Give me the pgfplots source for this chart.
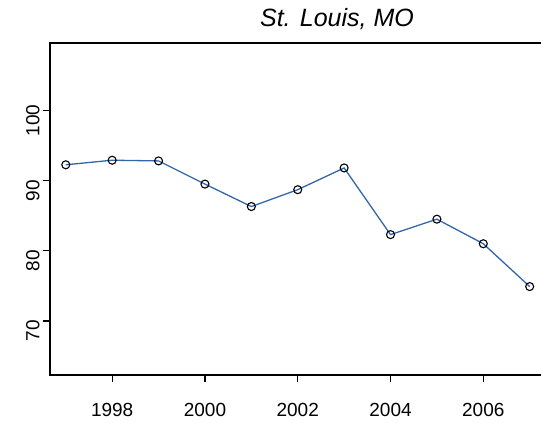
\documentclass[border=0pt]{standalone}
\usepackage{fontspec}
\setmainfont{Liberation Sans}
\usepackage{pgfplots}
\pgfplotsset{compat=1.18}
\definecolor{lineblue}{RGB}{49,102,168}
\begin{document}
\begin{tikzpicture}
\useasboundingbox (-50pt,-51pt) rectangle (491pt,375pt);
\begin{axis}[
  at={(0pt,0pt)}, anchor=south west,
  scale only axis, width=495pt, height=332pt,
  xmin=1996.66, xmax=2007.33,
  ymin=62.3, ymax=109.6,
  xtick={1998,2000,2002,2004,2006},
  ytick={70,80,90,100},
  xtick pos=left, ytick pos=left,
  tick align=outside,
  major tick length=7pt,
  axis line style={line width=1.2pt},
  every tick/.style={black, line width=1.2pt},
  /pgf/number format/assume math mode=true,
  /pgf/number format/1000 sep={},
  x tick label style={font=\fontsize{19}{19}\selectfont, yshift=-18pt},
  y tick label style={font=\fontsize{19}{19}\selectfont, rotate=90, anchor=south, xshift=-10pt},
]
\addplot[color=lineblue, line width=1.3pt, mark=o, mark size=4pt,
  mark options={black, line width=1.1pt, solid}] coordinates {
  (1997,92.25) (1998,92.9) (1999,92.8) (2000,89.5) (2001,86.3)
  (2002,88.7) (2003,91.8) (2004,82.3) (2005,84.5) (2006,81.0) (2007,74.9)
};
\end{axis}
\node[anchor=base, font=\fontsize{25}{25}\selectfont\itshape] at (287pt,348pt) {St. Louis, MO};
\end{tikzpicture}
\end{document}
